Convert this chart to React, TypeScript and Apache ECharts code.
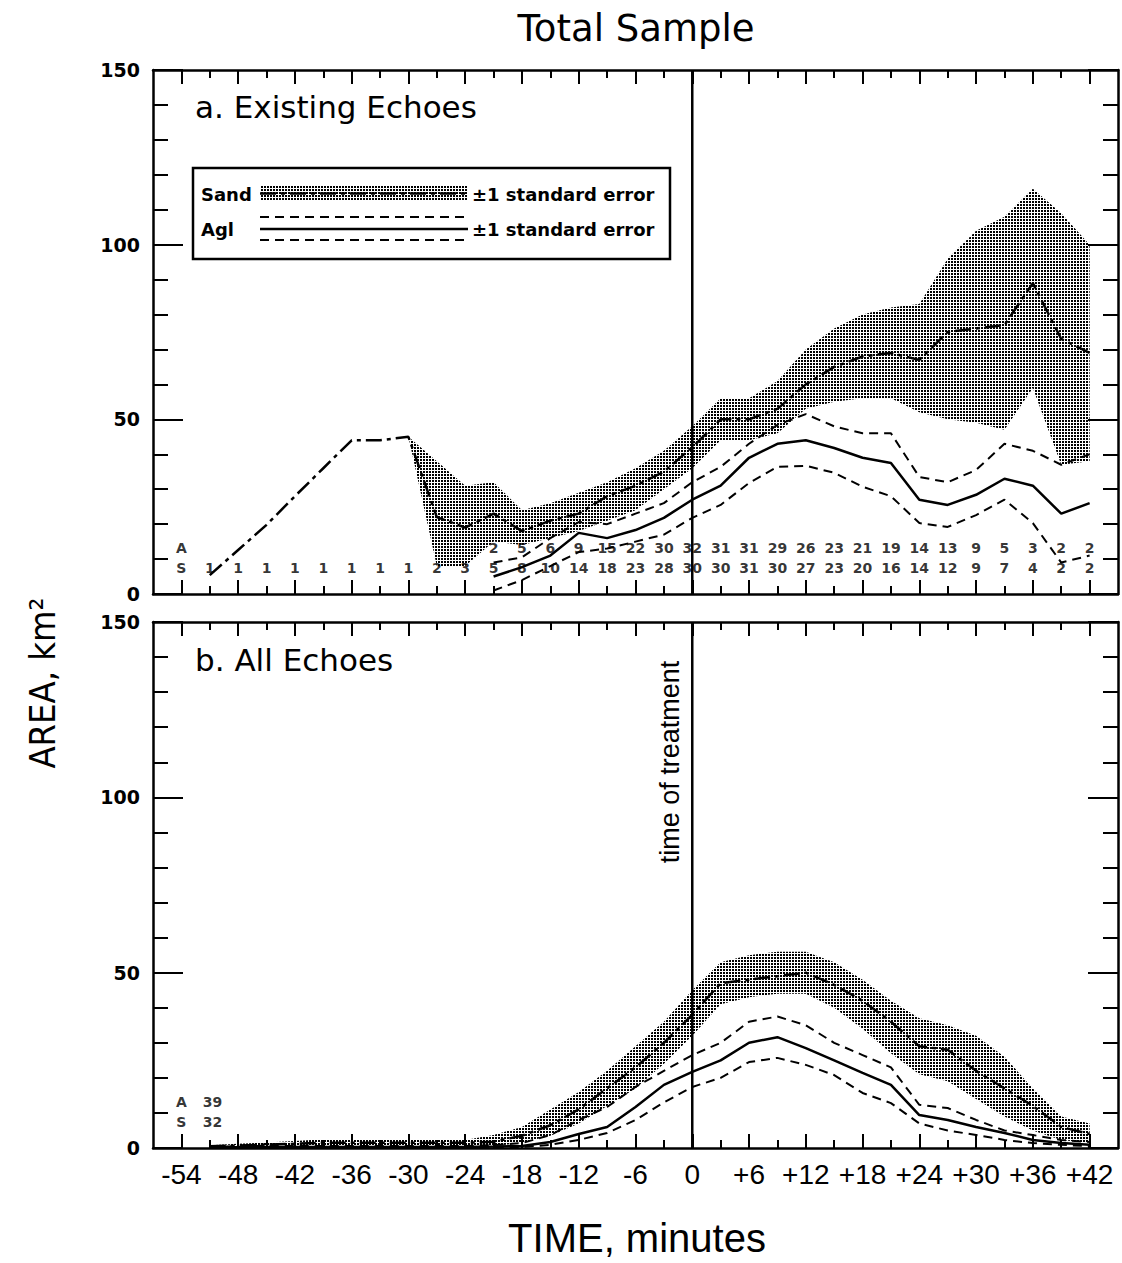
import React, { useEffect, useRef } from 'react';
import * as echarts from 'echarts';

// ---------- data ----------
const TIMES = [-51, -48, -45, -42, -39, -36, -33, -30, -27, -24, -21, -18, -15, -12, -9, -6, -3, 0, 3, 6, 9, 12, 15, 18, 21, 24, 27, 30, 33, 36, 39, 42];

const X_TICK_VALUES = [-54, -48, -42, -36, -30, -24, -18, -12, -6, 0, 6, 12, 18, 24, 30, 36, 42];
const X_TICK_LABELS = ['-54', '-48', '-42', '-36', '-30', '-24', '-18', '-12', '-6', '0', '+6', '+12', '+18', '+24', '+30', '+36', '+42'];
const X_MINOR_TICKS = [-51, -45, -39, -33, -27, -21, -15, -9, -3, 3, 9, 15, 21, 27, 33, 39];

const N = null;
// Panel a: Existing Echoes
const A_SAND_MEAN = [5.4, 12.6, 19.8, 28, 36, 44, 44, 45, 22, 19, 23, 18, 21, 23, 28, 31, 35, 42, 50, 50, 53, 60, 65, 68, 69, 67, 75, 76, 77, 89, 73, 69];
const A_SAND_UPPER = [N, N, N, N, N, N, N, 45, 38, 31, 32, 24, 26, 29, 32, 36, 41, 48, 56, 56, 61, 70, 76, 80, 82, 83, 96, 104, 108, 116, 109, 100];
const A_SAND_LOWER = [N, N, N, N, N, N, N, 45, 8, 8, 15, 14, 16, 18, 21, 24, 30, 36, 44, 44, 46, 53, 55, 56, 56, 52, 50, 49, 47, 59, 37, 38];
const A_AGL_MEAN = [N, N, N, N, N, N, N, N, N, N, 5, 7.7, 11, 17.5, 16, 18.3, 21.8, 27, 31, 39, 43, 44, 41.8, 39, 37.5, 27, 25.5, 28.4, 33, 31, 23, 26];
const A_AGL_UPPER = [N, N, N, N, N, N, N, N, N, N, 9, 10.5, 16, 20.6, 20, 23, 26, 32, 36.4, 43, 48.4, 51.5, 48, 46, 46, 33.5, 32, 35.5, 43, 41, 37, 40];
const A_AGL_LOWER = [N, N, N, N, N, N, N, N, N, N, 1, 4, 8, 12, 13, 15, 17, 21.8, 25.5, 31.8, 36.4, 36.7, 34.7, 30.7, 28, 20.3, 19.2, 22.6, 27, 20.3, 9, 11];
const A_COUNT_AGL = [N, N, N, N, N, N, N, N, N, N, 2, 5, 6, 9, 15, 22, 30, 32, 31, 31, 29, 26, 23, 21, 19, 14, 13, 9, 5, 3, 2, 2];
const A_COUNT_SAND = [1, 1, 1, 1, 1, 1, 1, 1, 2, 3, 5, 8, 10, 14, 18, 23, 28, 30, 30, 31, 30, 27, 23, 20, 16, 14, 12, 9, 7, 4, 2, 2];

// Panel b: All Echoes
const B_SAND_MEAN = [0.5, 0.7, 1.0, 1.2, 1.5, 1.5, 1.5, 1.5, 1.5, 1.5, 1.8, 3.5, 6.5, 11, 17, 23, 30, 38, 47, 48, 49, 50, 46.5, 42, 36, 29, 28, 22, 17, 12, 6, 4];
const B_SAND_UPPER = [0.8, 1.2, 1.6, 2.0, 2.5, 2.5, 2.5, 2.5, 2.3, 2.3, 3.7, 6, 11, 16, 22, 29, 36, 45, 53, 55, 56, 56, 53, 48, 42, 37, 35, 32, 26, 17, 9, 7];
const B_SAND_LOWER = [0.2, 0.3, 0.5, 0.6, 0.7, 0.7, 0.7, 0.7, 0.7, 0.8, 0.5, 1.5, 3.5, 7, 12, 17, 24, 32, 41, 43, 44, 44, 40, 34, 27, 21, 19, 14, 9, 5, 2.3, 1.4];
const B_AGL_MEAN = [0.2, 0.2, 0.3, 0.3, 0.3, 0.3, 0.3, 0.3, 0.3, 0.3, 0.4, 0.6, 1.7, 4, 6, 11.7, 18, 21.7, 25, 30, 31.6, 28.5, 25, 21.4, 18, 9.4, 8, 6, 4.3, 2.3, 1.4, 0.9];
const B_AGL_UPPER = [0.4, 0.5, 0.6, 0.6, 0.6, 0.6, 0.6, 0.6, 0.6, 0.6, 0.8, 1.4, 3.7, 8, 11.7, 17.4, 22, 26.5, 30, 36, 37.5, 35, 30, 26.5, 23, 12.3, 11.4, 8, 5, 3.7, 2.3, 1.7];
const B_AGL_LOWER = [0, 0, 0.1, 0.1, 0.1, 0.1, 0.1, 0.1, 0.1, 0.1, 0.1, 0.3, 0.9, 2.3, 4.3, 8, 13, 17.4, 20, 24.5, 25.7, 23.7, 20.8, 15.7, 12.8, 7, 5, 3.7, 2.3, 1.4, 0.9, 0.5];
const B_TOTAL_AGL = 39;
const B_TOTAL_SAND = 32;

// ---------- layout constants ----------
const ROW_A = 13.2;
const ROW_S = 7.5;
const ROW_LETTER_X = -54;
const ROW_TOTAL_X = -50.7;

const pts = (vals: (number | null)[]) =>
  TIMES.map((t, i) => (vals[i] == null ? null : [t, vals[i] as number])).filter(Boolean);

export default function App() {
  const ref = useRef<HTMLDivElement>(null);
  useEffect(() => {
    const el = ref.current!;
    const chart = echarts.init(el, null, { renderer: 'svg' });

    const cv = document.createElement('canvas');
    cv.width = 3;
    cv.height = 3;
    const ctx = cv.getContext('2d')!;
    ctx.fillStyle = '#000';
    ctx.fillRect(0, 0, 2, 2);
    const pattern: any = { image: cv, repeat: 'repeat' };

    const fmt = (v: number) => {
      const i = X_TICK_VALUES.indexOf(Math.round(v));
      return i >= 0 ? X_TICK_LABELS[i] : '';
    };

    const xAxisFor = (g: number, pos: string, major: boolean, showLabel: boolean) => ({
      type: 'value',
      gridIndex: g,
      min: -57,
      max: 45,
      interval: 3,
      position: pos,
      axisLine: { show: major, onZero: false, lineStyle: { color: '#000', width: 2.5 } },
      axisTick: {
        show: true,
        inside: true,
        length: major ? 14 : 8,
        customValues: major ? X_TICK_VALUES : X_MINOR_TICKS,
        lineStyle: { color: '#000', width: 2 },
      },
      axisLabel: {
        show: showLabel,
        customValues: X_TICK_VALUES,
        formatter: fmt,
        margin: 12,
        color: '#000',
        fontSize: 28,
        fontFamily: '"Liberation Sans", Arial, sans-serif',
      },
      splitLine: { show: false },
    });

    const yAxisFor = (g: number, pos: string) => ({
      type: 'value',
      gridIndex: g,
      min: 0,
      max: 150,
      interval: 50,
      position: pos,
      axisLine: { show: true, onZero: false, lineStyle: { color: '#000', width: 2.5 } },
      axisTick: { show: true, inside: true, length: 30, lineStyle: { color: '#000', width: 2 } },
      minorTick: { show: true, splitNumber: 5, length: 15, lineStyle: { color: '#000', width: 2 } },
      axisLabel: {
        show: pos === 'left',
        margin: 13,
        color: '#000',
        fontSize: 19,
        fontWeight: 'bold',
        fontFamily: '"DejaVu Sans", sans-serif',
      },
      splitLine: { show: false },
      minorSplitLine: { show: false },
    });

    const band = (g: number, lo: (number | null)[], up: (number | null)[]) => {
      const data = TIMES.map((t, i) =>
        up[i] == null || lo[i] == null ? null : [t, lo[i] as number, up[i] as number]
      ).filter(Boolean) as number[][];
      return {
        type: 'custom',
        xAxisIndex: 4 * g,
        yAxisIndex: 2 * g,
        silent: true,
        z: 1,
        data,
        encode: { x: 0, y: [1, 2] },
        renderItem: (params: any, api: any) => {
          if (params.dataIndex !== 0) return null;
          const top = data.map((d) => api.coord([d[0], d[2]]));
          const bot = data.map((d) => api.coord([d[0], d[1]])).reverse();
          return {
            type: 'polygon',
            shape: { points: top.concat(bot) },
            style: { fill: pattern, stroke: null },
          };
        },
      };
    };
    const line = (g: number, vals: (number | null)[], kind: string) => ({
      type: 'line', xAxisIndex: 4 * g, yAxisIndex: 2 * g, data: pts(vals), symbol: 'none', silent: true, z: 3,
      lineStyle:
        kind === 'sand'
          ? { color: '#000', width: 2.5, type: [16, 5, 4, 5] }
          : kind === 'agl'
          ? { color: '#000', width: 2.5, type: 'solid' }
          : { color: '#000', width: 2, type: [9, 6] },
    });
    const vline = (g: number) => ({
      type: 'line', xAxisIndex: 4 * g, yAxisIndex: 2 * g, data: [[0, 0], [0, 150]], symbol: 'none',
      silent: true, z: 4, lineStyle: { color: '#000', width: 2.5 },
    });
    const textLabel = {
      show: true, position: 'inside', color: '#000', fontSize: 14, fontWeight: 'bold',
      fontFamily: '"DejaVu Sans", sans-serif', formatter: (p: any) => String(p.value[2]),
    };
    const countSeries = (g: number, data: any[]) => ({
      type: 'scatter', xAxisIndex: 4 * g, yAxisIndex: 2 * g, symbolSize: 1, silent: true, z: 5,
      itemStyle: { color: 'rgba(0,0,0,0)' }, data, label: textLabel,
    });

    const countsA: any[] = [[ROW_LETTER_X, ROW_A, 'A'], [ROW_LETTER_X, ROW_S, 'S']];
    TIMES.forEach((t, i) => {
      if (A_COUNT_AGL[i] != null) countsA.push([t, ROW_A, A_COUNT_AGL[i]]);
      if (A_COUNT_SAND[i] != null) countsA.push([t, ROW_S, A_COUNT_SAND[i]]);
    });
    const countsB: any[] = [
      [ROW_LETTER_X, ROW_A, 'A'], [ROW_TOTAL_X, ROW_A, B_TOTAL_AGL],
      [ROW_LETTER_X, ROW_S, 'S'], [ROW_TOTAL_X, ROW_S, B_TOTAL_SAND],
    ];

    const txt = (x: number, y: number, text: string, font: string, align = 'left', rotation = 0) => ({
      type: 'text', x, y, rotation, silent: true, z: 10,
      style: {
        text, font, fill: '#000', align, verticalAlign: 'middle', textAlign: align, textVerticalAlign: 'middle',
      },
    });
    const gline = (x1: number, y1: number, x2: number, y2: number, width: number, dash?: number[]) => ({
      type: 'line', silent: true, z: 10,
      shape: { x1, y1, x2, y2 },
      style: { stroke: '#000', lineWidth: width, lineDash: dash || null },
    });

    const legendFont = 'bold 18px "DejaVu Sans", sans-serif';
    const option: any = {
      animation: false,
      backgroundColor: '#fff',
      grid: [
        { left: 153, top: 70, width: 965, height: 524, outerBoundsMode: 'none', containLabel: false },
        { left: 153, top: 622, width: 965, height: 526, outerBoundsMode: 'none', containLabel: false },
      ],
      xAxis: [
        xAxisFor(0, 'bottom', true, false),
        xAxisFor(0, 'bottom', false, false),
        xAxisFor(0, 'top', true, false),
        xAxisFor(0, 'top', false, false),
        xAxisFor(1, 'bottom', true, true),
        xAxisFor(1, 'bottom', false, false),
        xAxisFor(1, 'top', true, false),
        xAxisFor(1, 'top', false, false),
      ],
      yAxis: [yAxisFor(0, 'left'), yAxisFor(0, 'right'), yAxisFor(1, 'left'), yAxisFor(1, 'right')],
      series: [
        band(0, A_SAND_LOWER, A_SAND_UPPER),
        band(1, B_SAND_LOWER, B_SAND_UPPER),
        line(0, A_SAND_MEAN, 'sand'),
        line(0, A_AGL_MEAN, 'agl'),
        line(0, A_AGL_UPPER, 'se'),
        line(0, A_AGL_LOWER, 'se'),
        line(1, B_SAND_MEAN, 'sand'),
        line(1, B_AGL_MEAN, 'agl'),
        line(1, B_AGL_UPPER, 'se'),
        line(1, B_AGL_LOWER, 'se'),
        vline(0),
        vline(1),
        countSeries(0, countsA),
        countSeries(1, countsB),
      ],
      graphic: [
        txt(636, 28, 'Total Sample', '37px "DejaVu Sans", sans-serif', 'center'),
        txt(195, 107, 'a. Existing Echoes', '31px "DejaVu Sans", sans-serif'),
        txt(195, 660, 'b. All Echoes', '31px "DejaVu Sans", sans-serif'),
        txt(42, 683, 'AREA, km²', '36px "Liberation Sans Narrow", "DejaVu Sans Condensed", sans-serif', 'center', Math.PI / 2),
        txt(637, 1238, 'TIME, minutes', '40px "Liberation Sans", sans-serif', 'center'),
        txt(670, 762, 'time of treatment', '27px "Liberation Sans", Arial, sans-serif', 'center', Math.PI / 2),
        {
          type: 'rect', silent: true, z: 9,
          shape: { x: 193, y: 168, width: 477, height: 91 },
          style: { fill: '#fff', stroke: '#000', lineWidth: 2.5 },
        },
        {
          type: 'rect', silent: true, z: 10,
          shape: { x: 260, y: 186, width: 208, height: 15 },
          style: { fill: pattern, stroke: null },
        },
        gline(260, 193.5, 468, 193.5, 2.5, [16, 5, 4, 5]),
        gline(260, 217, 468, 217, 2, [9, 6]),
        gline(260, 229, 468, 229, 2.5),
        gline(260, 240, 468, 240, 2, [9, 6]),
        txt(201, 194, 'Sand', legendFont),
        txt(201, 229, 'Agl', legendFont),
        txt(472, 194, '±1 standard error', legendFont),
        txt(472, 229, '±1 standard error', legendFont),
      ],
    };
    chart.setOption(option);
    return () => chart.dispose();
  }, []);
  return (
    <div
      ref={ref}
      style={{ position: 'absolute', left: 0, top: 0, width: 1122, height: 1263, background: '#fff' }}
    />
  );
}
